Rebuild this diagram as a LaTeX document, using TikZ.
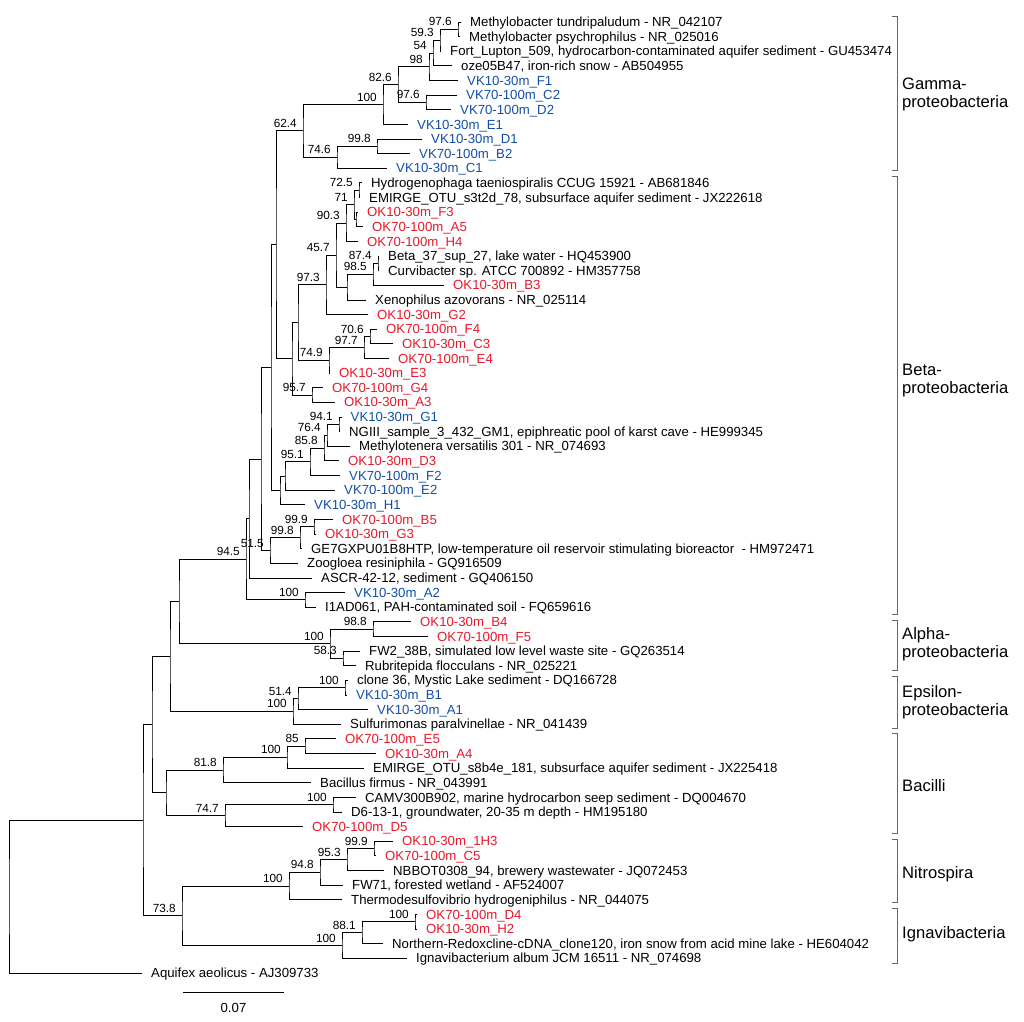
\documentclass[tikz,border=0pt]{standalone}
\usepackage{fontspec}
\setmainfont{Liberation Sans}
\usepackage{tikz}
\definecolor{vkblue}{RGB}{18,78,168}
\definecolor{okred}{RGB}{232,24,42}

\begin{document}
\begin{tikzpicture}[x=1pt, y=-14.63pt,
    br/.style={line width=0.9pt, black},
    leaf/.style={anchor=base west, inner sep=0pt, xshift=9pt, yshift=-4.6pt, font=\fontsize{13.2}{15}\selectfont},
    vk/.style={leaf, text=vkblue},
    ok/.style={leaf, text=okred},
    bs/.style={anchor=base east, inner sep=0pt, xshift=-6pt, yshift=3.5pt, font=\fontsize{11.8}{13}\selectfont},
    grp/.style={anchor=west, align=left, inner sep=0pt, font=\fontsize{16.6}{18}\selectfont},
    brk/.style={line width=0.8pt, black!60}]
    \useasboundingbox (0,-0.5038) rectangle (1024,69.286);

    % leaves
    \path (461,1) coordinate (t1) node[leaf] (L1) {Methylobacter tundripaludum - NR\_042107};
    \path (460,2) coordinate (t2) node[leaf] (L2) {Methylobacter psychrophilus - NR\_025016};
    \path (441,3) coordinate (t3) node[leaf] (L3) {Fort\_Lupton\_509, hydrocarbon-contaminated aquifer sediment - GU453474};
    \path (452,4) coordinate (t4) node[leaf] (L4) {oze05B47, iron-rich snow - AB504955};
    \path (458,5) coordinate (t5) node[vk] (L5) {VK10-30m\_F1};
    \path (457,6) coordinate (t6) node[vk] (L6) {VK70-100m\_C2};
    \path (451,7) coordinate (t7) node[vk] (L7) {VK70-100m\_D2};
    \path (408,8) coordinate (t8) node[vk] (L8) {VK10-30m\_E1};
    \path (422,9) coordinate (t9) node[vk] (L9) {VK10-30m\_D1};
    \path (410,10) coordinate (t10) node[vk] (L10) {VK70-100m\_B2};
    \path (387,11) coordinate (t11) node[vk] (L11) {VK10-30m\_C1};
    \path (362,12) coordinate (t12) node[leaf] (L12) {Hydrogenophaga taeniospiralis CCUG 15921 - AB681846};
    \path (360,13) coordinate (t13) node[leaf] (L13) {EMIRGE\_OTU\_s3t2d\_78, subsurface aquifer sediment - JX222618};
    \path (358,14) coordinate (t14) node[ok] (L14) {OK10-30m\_F3};
    \path (363,15) coordinate (t15) node[ok] (L15) {OK70-100m\_A5};
    \path (358,16) coordinate (t16) node[ok] (L16) {OK70-100m\_H4};
    \path (379,17) coordinate (t17) node[leaf] (L17) {Beta\_37\_sup\_27, lake water - HQ453900};
    \path (379,18) coordinate (t18) node[leaf] (L18) {Curvibacter sp. ATCC 700892 - HM357758};
    \path (444,19) coordinate (t19) node[ok] (L19) {OK10-30m\_B3};
    \path (366,20) coordinate (t20) node[leaf] (L20) {Xenophilus azovorans - NR\_025114};
    \path (368,21) coordinate (t21) node[ok] (L21) {OK10-30m\_G2};
    \path (377,22) coordinate (t22) node[ok] (L22) {OK70-100m\_F4};
    \path (393,23) coordinate (t23) node[ok] (L23) {OK10-30m\_C3};
    \path (389,24) coordinate (t24) node[ok] (L24) {OK70-100m\_E4};
    \path (330,25) coordinate (t25) node[ok] (L25) {OK10-30m\_E3};
    \path (323,26) coordinate (t26) node[ok] (L26) {OK70-100m\_G4};
    \path (335,27) coordinate (t27) node[ok] (L27) {OK10-30m\_A3};
    \path (341.5,28) coordinate (t28) node[vk] (L28) {VK10-30m\_G1};
    \path (340,29) coordinate (t29) node[leaf] (L29) {NGIII\_sample\_3\_432\_GM1, epiphreatic pool of karst cave - HE999345};
    \path (350,30) coordinate (t30) node[leaf] (L30) {Methylotenera versatilis 301 - NR\_074693};
    \path (339,31) coordinate (t31) node[ok] (L31) {OK10-30m\_D3};
    \path (340,32) coordinate (t32) node[vk] (L32) {VK70-100m\_F2};
    \path (335,33) coordinate (t33) node[vk] (L33) {VK70-100m\_E2};
    \path (305,34) coordinate (t34) node[vk] (L34) {VK10-30m\_H1};
    \path (333,35) coordinate (t35) node[ok] (L35) {OK70-100m\_B5};
    \path (316,36) coordinate (t36) node[ok] (L36) {OK10-30m\_G3};
    \path (302,37) coordinate (t37) node[leaf] (L37) {GE7GXPU01B8HTP, low-temperature oil reservoir stimulating bioreactor \ - HM972471};
    \path (298,38) coordinate (t38) node[leaf] (L38) {Zoogloea resiniphila - GQ916509};
    \path (312,39) coordinate (t39) node[leaf] (L39) {ASCR-42-12, sediment - GQ406150};
    \path (345,40) coordinate (t40) node[vk] (L40) {VK10-30m\_A2};
    \path (316,41) coordinate (t41) node[leaf] (L41) {I1AD061, PAH-contaminated soil - FQ659616};
    \path (411,42) coordinate (t42) node[ok] (L42) {OK10-30m\_B4};
    \path (428,43) coordinate (t43) node[ok] (L43) {OK70-100m\_F5};
    \path (360,44) coordinate (t44) node[leaf] (L44) {FW2\_38B, simulated low level waste site - GQ263514};
    \path (356,45) coordinate (t45) node[leaf] (L45) {Rubritepida flocculans - NR\_025221};
    \path (348,46) coordinate (t46) node[leaf] (L46) {clone 36, Mystic Lake sediment - DQ166728};
    \path (347,47) coordinate (t47) node[vk] (L47) {VK10-30m\_B1};
    \path (368,48) coordinate (t48) node[vk] (L48) {VK10-30m\_A1};
    \path (341,49) coordinate (t49) node[leaf] (L49) {Sulfurimonas paralvinellae - NR\_041439};
    \path (336,50) coordinate (t50) node[ok] (L50) {OK70-100m\_E5};
    \path (376,51) coordinate (t51) node[ok] (L51) {OK10-30m\_A4};
    \path (364,52) coordinate (t52) node[leaf] (L52) {EMIRGE\_OTU\_s8b4e\_181, subsurface aquifer sediment - JX225418};
    \path (311,53) coordinate (t53) node[leaf] (L53) {Bacillus firmus - NR\_043991};
    \path (356,54) coordinate (t54) node[leaf] (L54) {CAMV300B902, marine hydrocarbon seep sediment - DQ004670};
    \path (342,55) coordinate (t55) node[leaf] (L55) {D6-13-1, groundwater, 20-35 m depth - HM195180};
    \path (303,56) coordinate (t56) node[ok] (L56) {OK70-100m\_D5};
    \path (393,57) coordinate (t57) node[ok] (L57) {OK10-30m\_1H3};
    \path (376,58) coordinate (t58) node[ok] (L58) {OK70-100m\_C5};
    \path (384,59) coordinate (t59) node[leaf] (L59) {NBBOT0308\_94, brewery wastewater - JQ072453};
    \path (343,60) coordinate (t60) node[leaf] (L60) {FW71, forested wetland - AF524007};
    \path (342,61) coordinate (t61) node[leaf] (L61) {Thermodesulfovibrio hydrogeniphilus - NR\_044075};
    \path (417,62) coordinate (t62) node[ok] (L62) {OK70-100m\_D4};
    \path (417,63) coordinate (t63) node[ok] (L63) {OK10-30m\_H2};
    \path (383,64) coordinate (t64) node[leaf] (L64) {Northern-Redoxcline-cDNA\_clone120, iron snow from acid mine lake - HE604042};
    \path (407,65) coordinate (t65) node[leaf] (L65) {Ignavibacterium album JCM 16511 - NR\_074698};
    \path (142,66) coordinate (t66) node[leaf] (L66) {Aquifex aeolicus - AJ309733};

    % Gamma
    \coordinate (nA) at (458,1.5);    \draw[br] (t1) -| (nA) |- (t2);
    \coordinate (nB) at (440,2.25);   \draw[br] (nA) -| (nB) |- (t3);
    \coordinate (nC) at (433,3.125);  \draw[br] (nB) -| (nC) |- (t4);
    \coordinate (nD) at (429,4.0625); \draw[br] (nC) -| (nD) |- (t5);
    \coordinate (nE) at (426,6.5);    \draw[br] (t6) -| (nE) |- (t7);
    \coordinate (nF) at (398,5.2813); \draw[br] (nD) -| (nF) |- (nE);
    \coordinate (nG) at (383,6.6406); \draw[br] (nF) -| (nG) |- (t8);
    \coordinate (nH) at (377,9.5);    \draw[br] (t9) -| (nH) |- (t10);
    \coordinate (nI) at (337,10.25);  \draw[br] (nH) -| (nI) |- (t11);
    \coordinate (nJ) at (303,8.4453); \draw[br] (nG) -| (nJ) |- (nI);

    % Beta
    \coordinate (b1) at (359,12.5);    \draw[br] (t12) -| (b1) |- (t13);
    \coordinate (b2) at (356,14.5);    \draw[br] (t14) -| (b2) |- (t15);
    \coordinate (b3) at (354,13.5);    \draw[br] (b1) -| (b3) |- (b2);
    \coordinate (b4) at (346,14.75);   \draw[br] (b3) -| (b4) |- (t16);
    \coordinate (b5) at (378,17.5);    \draw[br] (t17) -| (b5) |- (t18);
    \coordinate (b6) at (373,18.25);   \draw[br] (b5) -| (b6) |- (t19);
    \coordinate (b7) at (347,19.125);  \draw[br] (b6) -| (b7) |- (t20);
    \coordinate (b8) at (336,16.9375); \draw[br] (b4) -| (b8) |- (b7);
    \coordinate (b9) at (326,18.9688); \draw[br] (b8) -| (b9) |- (t21);
    \coordinate (b10) at (370,22.5);   \draw[br] (t22) -| (b10) |- (t23);
    \coordinate (b11) at (364,23.25);  \draw[br] (b10) -| (b11) |- (t24);
    \coordinate (b12) at (329,24.125); \draw[br] (b11) -| (b12) |- (t25);
    \coordinate (b13) at (298,21.5469); \draw[br] (b9) -| (b13) |- (b12);
    \coordinate (b14) at (312,26.5);   \draw[br] (t26) -| (b14) |- (t27);
    \coordinate (b15) at (292,24.0234); \draw[br] (b13) -| (b15) |- (b14);
    \coordinate (b16) at (276,16.2344); \draw[br] (nJ) -| (b16) |- (b15);
    \coordinate (b17) at (339,28.5);   \draw[br] (t28) -| (b17) |- (t29);
    \coordinate (b18) at (327,29.25);  \draw[br] (b17) -| (b18) |- (t30);
    \coordinate (b19) at (324,30.125); \draw[br] (b18) -| (b19) |- (t31);
    \coordinate (b20) at (310,31.0625); \draw[br] (b19) -| (b20) |- (t32);
    \coordinate (b21) at (285,32.0313); \draw[br] (b20) -| (b21) |- (t33);
    \coordinate (b22) at (280,33.0156); \draw[br] (b21) -| (b22) |- (t34);
    \coordinate (b23) at (271,24.625); \draw[br] (b16) -| (b23) |- (b22);
    \coordinate (b24) at (314,35.5);   \draw[br] (t35) -| (b24) |- (t36);
    \coordinate (b25) at (300,36.25);  \draw[br] (b24) -| (b25) |- (t37);
    \coordinate (b26) at (270,37.125); \draw[br] (b25) -| (b26) |- (t38);
    \coordinate (b27) at (261,30.875); \draw[br] (b23) -| (b27) |- (b26);
    \coordinate (b28) at (249,34.9375); \draw[br] (b27) -| (b28) |- (t39);
    \coordinate (b29) at (305,40.5);   \draw[br] (t40) -| (b29) |- (t41);
    \coordinate (b30) at (246,37.7188); \draw[br] (b28) -| (b30) |- (b29);

    % Alpha
    \coordinate (a1) at (373,42.5);  \draw[br] (t42) -| (a1) |- (t43);
    \coordinate (a2) at (343,44.5);  \draw[br] (t44) -| (a2) |- (t45);
    \coordinate (a3) at (330,43.5);  \draw[br] (a1) -| (a3) |- (a2);
    \coordinate (k1) at (179,40.6094); \draw[br] (b30) -| (k1) |- (a3);

    % Epsilon
    \coordinate (e1) at (345,46.5);   \draw[br] (t46) -| (e1) |- (t47);
    \coordinate (e2) at (298,47.25);  \draw[br] (e1) -| (e2) |- (t48);
    \coordinate (e3) at (293,48.125); \draw[br] (e2) -| (e3) |- (t49);
    \coordinate (k2) at (170,44.3672); \draw[br] (k1) -| (k2) |- (e3);

    % Bacilli
    \coordinate (c1) at (305,50.5);   \draw[br] (t50) -| (c1) |- (t51);
    \coordinate (c2) at (287,51.25);  \draw[br] (c1) -| (c2) |- (t52);
    \coordinate (c3) at (223,52.125); \draw[br] (c2) -| (c3) |- (t53);
    \coordinate (c4) at (333,54.5);   \draw[br] (t54) -| (c4) |- (t55);
    \coordinate (c5) at (225,55.25);  \draw[br] (c4) -| (c5) |- (t56);
    \coordinate (c6) at (166,53.6875); \draw[br] (c3) -| (c6) |- (c5);
    \coordinate (k3) at (152,49.0273); \draw[br] (k2) -| (k3) |- (c6);

    % Nitrospira
    \coordinate (d1) at (374,57.5);   \draw[br] (t57) -| (d1) |- (t58);
    \coordinate (d2) at (347,58.25);  \draw[br] (d1) -| (d2) |- (t59);
    \coordinate (d3) at (320,59.125); \draw[br] (d2) -| (d3) |- (t60);
    \coordinate (d4) at (289,60.0625); \draw[br] (d3) -| (d4) |- (t61);

    % Ignavibacteria
    \coordinate (g1) at (415,62.5);   \draw[br] (t62) -| (g1) |- (t63);
    \coordinate (g2) at (362,63.25);  \draw[br] (g1) -| (g2) |- (t64);
    \coordinate (g3) at (342,64.125); \draw[br] (g2) -| (g3) |- (t65);
    \coordinate (k4) at (182,62.0938); \draw[br] (d4) -| (k4) |- (g3);
    \coordinate (k5) at (143,55.5605); \draw[br] (k3) -| (k5) |- (k4);
    \coordinate (root) at (9,60.7803); \draw[br] (k5) -| (root) |- (t66);

    % bootstrap values
    \node[bs] (sA) at (nA) {97.6};
    \node[bs] (sB) at (nB) {59.3};
    \node[bs] (sC) at (nC) {54};
    \node[bs] (sD) at (nD) {98};
    \node[bs] (sE) at (nE) {97.6};
    \node[bs] (sF) at (nF) {82.6};
    \node[bs] (sG) at (nG) {100};
    \node[bs] (sH) at (nH) {99.8};
    \node[bs] (sI) at (nI) {74.6};
    \node[bs] (sJ) at (nJ) {62.4};
    \node[bs] (s1) at (b1) {72.5};
    \node[bs] (s3) at (b3) {71};
    \node[bs] (s4) at (b4) {90.3};
    \node[bs] (s5) at (b5) {87.4};
    \node[bs] (s6) at (b6) {98.5};
    \node[bs] (s8) at (b8) {45.7};
    \node[bs] (s9) at (b9) {97.3};
    \node[bs] (s10) at (b10) {70.6};
    \node[bs] (s11) at (b11) {97.7};
    \node[bs] (s12) at (b12) {74.9};
    \node[bs] (s14) at (b14) {95.7};
    \node[bs] (s17) at (b17) {94.1};
    \node[bs] (s18) at (b18) {76.4};
    \node[bs] (s19) at (b19) {85.8};
    \node[bs] (s20) at (b20) {95.1};
    \node[bs] (s24) at (b24) {99.9};
    \node[bs] (s25) at (b25) {99.8};
    \node[bs] (s26) at (b26) {51.5};
    \node[bs] (s29) at (b29) {100};
    \node[bs] (s30) at (b30) {94.5};
    \node[bs] (sa1) at (a1) {98.8};
    \node[bs] (sa2) at (a2) {58.3};
    \node[bs] (sa3) at (a3) {100};
    \node[bs] (se1) at (e1) {100};
    \node[bs] (se2) at (e2) {51.4};
    \node[bs] (se3) at (e3) {100};
    \node[bs] (sc1) at (c1) {85};
    \node[bs] (sc2) at (c2) {100};
    \node[bs] (sc3) at (c3) {81.8};
    \node[bs] (sc4) at (c4) {100};
    \node[bs] (sc5) at (c5) {74.7};
    \node[bs] (sd1) at (d1) {99.9};
    \node[bs] (sd2) at (d2) {95.3};
    \node[bs] (sd3) at (d3) {94.8};
    \node[bs] (sd4) at (d4) {100};
    \node[bs] (sg1) at (g1) {100};
    \node[bs] (sg2) at (g2) {88.1};
    \node[bs] (sg3) at (g3) {100};
    \node[bs] (sk4) at (k4) {73.8};

    % groups
    \foreach \a/\b in {0.65/11.12, 11.53/41.47, 41.88/45.33, 45.75/49.25, 49.6/56.45, 56.85/61.2, 61.6/65.35}
      \draw[brk] (892,\a) -| (897,\b) -- (892,\b);
    \node[grp] (gGamma) at (902,5.96) {Gamma-\\proteobacteria};
    \node[grp] (gBeta) at (902,25.5) {Beta-\\proteobacteria};
    \node[grp] (gAlpha) at (902,43.52) {Alpha-\\proteobacteria};
    \node[grp] (gEpsilon) at (902,47.48) {Epsilon-\\proteobacteria};
    \node[grp] (gBacilli) at (902,53.22) {Bacilli};
    \node[grp] (gNitro) at (902,59.23) {Nitrospira};
    \node[grp] (gIgnavi) at (902,63.34) {Ignavibacteria};

    % scale bar
    \coordinate (sbL) at (183,67.3);
    \coordinate (sbR) at (284,67.3);
    \draw[br] (sbL) -- (sbR);
    \node[inner sep=0pt, font=\fontsize{13.2}{15}\selectfont] (sbT) at (233.5,68.4) {0.07};
\end{tikzpicture}
\end{document}
